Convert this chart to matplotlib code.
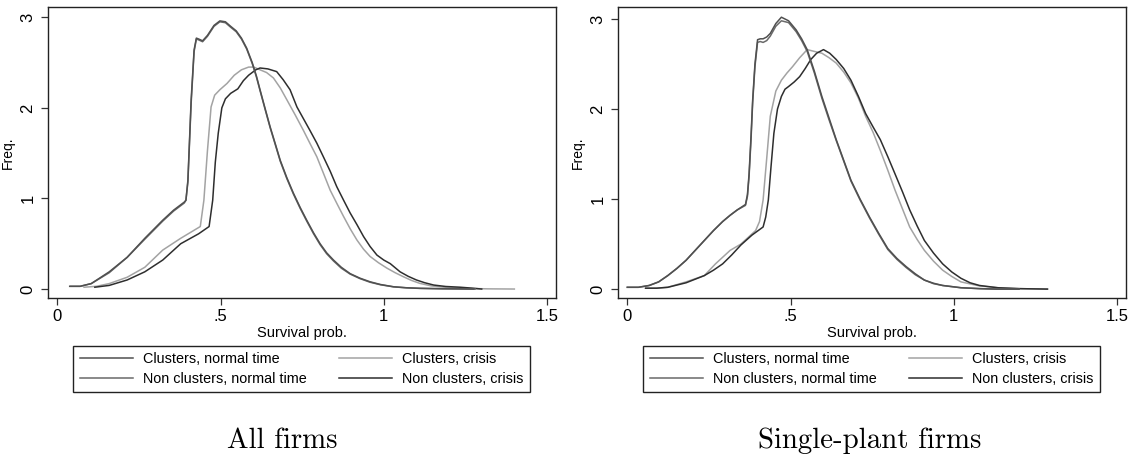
import matplotlib
matplotlib.use("Agg")
import matplotlib.pyplot as plt

plt.rcParams['font.family'] = ['Liberation Sans', 'DejaVu Sans']

LABELS = ['Clusters, normal time', 'Clusters, crisis',
          'Non clusters, normal time', 'Non clusters, crisis']
COLORS = ['#505050', '#a3a3a3', '#6a6a6a', '#2e2e2e']
TITLES = ['All firms', 'Single-plant firms']

X_TICKS = [0, 0.5, 1, 1.5]
X_TICKLABELS = ['0', '.5', '1', '1.5']
Y_TICKS = [0, 1, 2, 3]

# --- All firms ---
all_cn_x = [0.038, 0.07, 0.104, 0.159, 0.214, 0.268, 0.323, 0.356, 0.389, 0.394, 0.400, 0.410,
            0.419, 0.426, 0.433, 0.445, 0.46, 0.48, 0.498, 0.515, 0.531, 0.548, 0.564, 0.580,
            0.597, 0.61, 0.621, 0.636, 0.652, 0.668, 0.683, 0.703, 0.723, 0.744, 0.764, 0.785,
            0.805, 0.825, 0.846, 0.87, 0.897, 0.927, 0.958, 0.99, 1.03, 1.07, 1.11, 1.18, 1.276]
all_cn_y = [0.03, 0.03, 0.06, 0.19, 0.35, 0.56, 0.76, 0.87, 0.96, 0.98, 1.2, 2.09,
            2.64, 2.77, 2.76, 2.74, 2.8, 2.91, 2.96, 2.95, 2.9, 2.85, 2.77, 2.66,
            2.5, 2.35, 2.2, 2.0, 1.79, 1.6, 1.42, 1.23, 1.06, 0.9, 0.76, 0.62,
            0.5, 0.4, 0.32, 0.24, 0.17, 0.12, 0.08, 0.05, 0.025, 0.014, 0.008, 0.003, 0.0]
all_ncn_x = [0.04, 0.07, 0.104, 0.159, 0.214, 0.268, 0.323, 0.356, 0.389, 0.394, 0.400, 0.410,
             0.419, 0.426, 0.433, 0.445, 0.46, 0.48, 0.498, 0.515, 0.531, 0.548, 0.564, 0.580,
             0.597, 0.61, 0.621, 0.636, 0.652, 0.668, 0.683, 0.703, 0.723, 0.744, 0.764, 0.785,
             0.805, 0.825, 0.846, 0.87, 0.897, 0.927, 0.958, 0.99, 1.03, 1.07, 1.11, 1.18, 1.28]
all_ncn_y = [0.03, 0.03, 0.06, 0.18, 0.35, 0.55, 0.75, 0.86, 0.95, 0.98, 1.18, 2.05,
             2.62, 2.76, 2.75, 2.73, 2.79, 2.9, 2.95, 2.94, 2.89, 2.84, 2.76, 2.65,
             2.49, 2.34, 2.19, 1.99, 1.78, 1.59, 1.41, 1.22, 1.05, 0.89, 0.75, 0.61,
             0.49, 0.39, 0.31, 0.23, 0.165, 0.115, 0.075, 0.047, 0.024, 0.013, 0.007, 0.003, 0.0]
all_cc_x = [0.082, 0.12, 0.159, 0.214, 0.268, 0.323, 0.378, 0.438, 0.449, 0.46, 0.471, 0.482,
            0.498, 0.52, 0.542, 0.564, 0.586, 0.602, 0.621, 0.641, 0.662, 0.683, 0.703, 0.729,
            0.754, 0.775, 0.795, 0.815, 0.836, 0.857, 0.877, 0.898, 0.918, 0.938, 0.958, 0.984,
            1.01, 1.035, 1.06, 1.085, 1.11, 1.145, 1.183, 1.25, 1.32, 1.40]
all_cc_y = [0.02, 0.03, 0.06, 0.13, 0.24, 0.43, 0.56, 0.69, 0.98, 1.53, 2.01, 2.14,
            2.2, 2.27, 2.36, 2.42, 2.45, 2.45, 2.42, 2.39, 2.33, 2.22, 2.09, 1.92,
            1.75, 1.6, 1.46, 1.28, 1.09, 0.94, 0.8, 0.66, 0.54, 0.44, 0.36, 0.29,
            0.23, 0.18, 0.136, 0.095, 0.063, 0.035, 0.02, 0.007, 0.002, 0.0]
all_ncc_x = [0.115, 0.159, 0.214, 0.268, 0.323, 0.378, 0.433, 0.465, 0.476, 0.484, 0.493, 0.504,
             0.515, 0.531, 0.553, 0.570, 0.586, 0.608, 0.621, 0.645, 0.672, 0.692, 0.713, 0.734,
             0.754, 0.774, 0.795, 0.815, 0.836, 0.856, 0.877, 0.897, 0.918, 0.938, 0.958, 0.979,
             1.0, 1.02, 1.05, 1.075, 1.10, 1.125, 1.153, 1.19, 1.234, 1.27, 1.30]
all_ncc_y = [0.02, 0.04, 0.1, 0.19, 0.32, 0.5, 0.61, 0.69, 0.98, 1.4, 1.72, 2.0,
             2.1, 2.16, 2.21, 2.3, 2.36, 2.42, 2.44, 2.43, 2.4, 2.31, 2.2, 2.01,
             1.88, 1.75, 1.61, 1.46, 1.3, 1.13, 0.98, 0.84, 0.71, 0.58, 0.47, 0.375,
             0.32, 0.28, 0.19, 0.14, 0.1, 0.07, 0.044, 0.028, 0.02, 0.01, 0.0]

# --- Single-plant firms ---
sp_cn_x = [0.0, 0.034, 0.067, 0.096, 0.124, 0.152, 0.18, 0.208, 0.236, 0.264, 0.292, 0.315,
           0.337, 0.362, 0.368, 0.373, 0.379, 0.384, 0.391, 0.399, 0.407, 0.416, 0.427, 0.438,
           0.455, 0.472, 0.494, 0.517, 0.534, 0.551, 0.573, 0.596, 0.618, 0.64, 0.663, 0.685,
           0.713, 0.742, 0.77, 0.798, 0.826, 0.854, 0.882, 0.91, 0.938, 0.966, 1.022, 1.079,
           1.13, 1.2]
sp_cn_y = [0.02, 0.02, 0.04, 0.08, 0.15, 0.23, 0.32, 0.43, 0.54, 0.65, 0.75, 0.82,
           0.88, 0.94, 1.05, 1.28, 1.7, 2.1, 2.5, 2.77, 2.78, 2.78, 2.8, 2.84,
           2.95, 3.02, 2.98, 2.88, 2.78, 2.66, 2.42, 2.14, 1.9, 1.66, 1.43, 1.21,
           1.0, 0.8, 0.62, 0.45, 0.34, 0.25, 0.17, 0.1, 0.065, 0.04, 0.015, 0.005,
           0.0, 0.0]
sp_ncn_x = [0.0, 0.034, 0.067, 0.096, 0.124, 0.152, 0.18, 0.208, 0.236, 0.264, 0.292, 0.315,
            0.337, 0.362, 0.368, 0.373, 0.379, 0.384, 0.391, 0.399, 0.407, 0.416, 0.427, 0.438,
            0.455, 0.472, 0.494, 0.517, 0.534, 0.551, 0.573, 0.596, 0.618, 0.64, 0.663, 0.685,
            0.713, 0.742, 0.77, 0.798, 0.826, 0.854, 0.882, 0.91, 0.938, 0.966, 1.022, 1.079,
            1.13, 1.2]
sp_ncn_y = [0.02, 0.02, 0.04, 0.08, 0.15, 0.23, 0.32, 0.43, 0.54, 0.65, 0.75, 0.82,
            0.88, 0.93, 1.03, 1.25, 1.66, 2.07, 2.47, 2.74, 2.75, 2.74, 2.76, 2.81,
            2.92, 2.98, 2.96, 2.86, 2.76, 2.64, 2.4, 2.12, 1.88, 1.65, 1.42, 1.2,
            0.99, 0.79, 0.61, 0.44, 0.33, 0.24, 0.16, 0.1, 0.06, 0.04, 0.015, 0.005,
            0.0, 0.0]
sp_cc_x = [0.056, 0.09, 0.124, 0.18, 0.236, 0.27, 0.315, 0.348, 0.393, 0.405, 0.416, 0.427,
           0.438, 0.455, 0.472, 0.489, 0.506, 0.528, 0.551, 0.573, 0.596, 0.618, 0.64, 0.663,
           0.685, 0.708, 0.73, 0.753, 0.775, 0.798, 0.82, 0.843, 0.865, 0.888, 0.91, 0.938,
           0.966, 0.994, 1.022, 1.079, 1.135, 1.2, 1.287]
sp_cc_y = [0.01, 0.01, 0.02, 0.08, 0.15, 0.28, 0.43, 0.5, 0.65, 0.75, 0.99, 1.45,
           1.92, 2.2, 2.32, 2.4, 2.47, 2.57, 2.66, 2.64, 2.62, 2.57, 2.51, 2.41,
           2.29, 2.12, 1.92, 1.74, 1.54, 1.32, 1.1, 0.89, 0.69, 0.55, 0.43, 0.31,
           0.21, 0.14, 0.08, 0.035, 0.015, 0.005, 0.0]
sp_ncc_x = [0.056, 0.09, 0.124, 0.18, 0.236, 0.264, 0.292, 0.32, 0.348, 0.382, 0.416, 0.424,
            0.432, 0.44, 0.449, 0.46, 0.472, 0.483, 0.494, 0.511, 0.528, 0.545, 0.562, 0.58,
            0.601, 0.62, 0.64, 0.663, 0.685, 0.708, 0.73, 0.753, 0.775, 0.798, 0.82, 0.843,
            0.865, 0.888, 0.91, 0.938, 0.966, 0.994, 1.022, 1.05, 1.079, 1.135, 1.2, 1.287]
sp_ncc_y = [0.01, 0.01, 0.02, 0.07, 0.15, 0.21, 0.28, 0.38, 0.49, 0.6, 0.69, 0.8,
            0.99, 1.35, 1.73, 2.0, 2.14, 2.22, 2.25, 2.3, 2.36, 2.45, 2.55, 2.62,
            2.66, 2.62, 2.55, 2.45, 2.32, 2.14, 1.95, 1.8, 1.66, 1.47, 1.28, 1.08,
            0.88, 0.7, 0.54, 0.4, 0.28, 0.19, 0.12, 0.07, 0.04, 0.015, 0.005, 0.0]

panels = [
    [(all_cn_x, all_cn_y), (all_cc_x, all_cc_y), (all_ncn_x, all_ncn_y), (all_ncc_x, all_ncc_y)],
    [(sp_cn_x, sp_cn_y), (sp_cc_x, sp_cc_y), (sp_ncn_x, sp_ncn_y), (sp_ncc_x, sp_ncc_y)],
]

W, H = 1131, 454
fig = plt.figure(figsize=(W / 100, H / 100), dpi=100)

ax_left_px = [48, 618]
ax_w_px = 508
ax_top_px, ax_bot_px = 7.3, 298
legend_px = [(73, 530), (643, 1100)]
title_x_px = [282, 870]

for i, curves in enumerate(panels):
    ax = fig.add_axes([ax_left_px[i] / W, 1 - ax_bot_px / H,
                       ax_w_px / W, (ax_bot_px - ax_top_px) / H])
    lines = {}
    # crisis curves first, normal-time ones on top
    for k in [1, 3, 2, 0]:
        xs, ys = curves[k]
        ln, = ax.plot(xs, ys, color=COLORS[k], lw=1.1, label=LABELS[k],
                      solid_joinstyle='round')
        lines[k] = ln

    ax.set_xlim(-0.0285, 1.5276)
    ax.set_ylim(-0.099, 3.11 if i == 0 else 3.13)
    ax.set_xticks(X_TICKS)
    ax.set_xticklabels(X_TICKLABELS)
    ax.set_yticks(Y_TICKS)
    ax.set_yticklabels([str(v) for v in Y_TICKS], rotation=90, va='center')
    ax.tick_params(axis='both', labelsize=12, length=5, width=0.9, color='#333333')
    ax.tick_params(axis='x', pad=3)
    ax.tick_params(axis='y', pad=4)
    for sp in ax.spines.values():
        sp.set_linewidth(1.0)
        sp.set_color('#222222')
    ax.set_xlabel('Survival prob.', fontsize=10.5, labelpad=1)
    ax.set_ylabel('Freq.', fontsize=10, labelpad=4)

    # legend filled row by row: normal time / crisis side by side
    order = [0, 2, 1, 3]
    x0, x1 = legend_px[i]
    ax.legend([lines[k] for k in order], [LABELS[k] for k in order],
              ncol=2, loc='upper center', mode='expand',
              bbox_to_anchor=(x0 / W, 1 - 392.3 / H, (x1 - x0) / W, (392.3 - 345.7) / H),
              bbox_transform=fig.transFigure,
              fontsize=10.4, frameon=True, fancybox=False, edgecolor='#222222',
              framealpha=1, borderpad=0.45, labelspacing=0.4, handlelength=3.7,
              handletextpad=0.7, columnspacing=2.0, borderaxespad=0)
    ax.get_legend().get_frame().set_linewidth(1.0)

    fig.text(title_x_px[i] / W, 1 - 448 / H, TITLES[i], family='cmr10',
             fontsize=20.8, ha='center', va='baseline')

fig.savefig('out.png', dpi=100)
